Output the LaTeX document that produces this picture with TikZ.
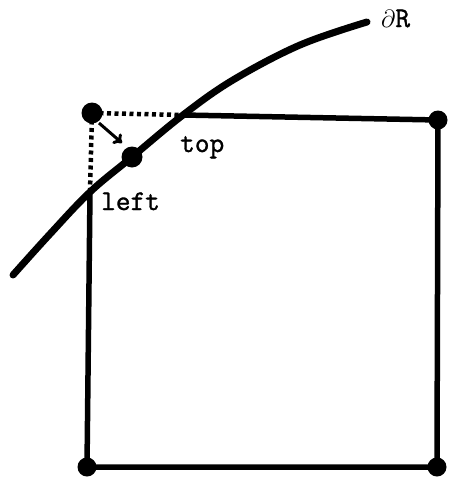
\documentclass[tikz,border=0pt]{standalone}
\usepackage{fontspec}
\newfontfamily\typew[FakeBold=1.2]{Latin Modern Mono}
\usetikzlibrary{arrows.meta}
\begin{document}
\begin{tikzpicture}[x=1pt,y=-1pt,
  dot/.style={circle,fill=black,inner sep=0pt,minimum size=#1},
  dot/.default=19pt,
  edge/.style={line width=5.5pt,line cap=round},
  guide/.style={line width=4.5pt,dash pattern=on 4pt off 3.5pt},
  lbl/.style={inner sep=0pt,font=\typew\fontsize{28.5}{28.5}\selectfont}]
\useasboundingbox (0,0) rectangle (448,480);
% named points
\coordinate (top) at (183,115);
\coordinate (left) at (90,192);
\node[dot=21pt] (P) at (92,113) {};
\node[dot=21pt] (Q) at (132,157) {};
\node[dot] (TR) at (438,120) {};
\node[dot] (BR) at (437,467) {};
\node[dot] (BL) at (87,467) {};
% boundary curve
\draw[line width=7pt,line cap=round] plot[smooth,tension=0.6] coordinates
  {(13,275) (50,234) (left) (Q) (top) (233,80) (300,45) (367,22)};
% square
\draw[edge] (top) -- (TR.center) -- (BR.center) -- (BL.center) -- (left);
% dotted guides
\draw[guide] (P.center) -- (top);
\draw[guide] (P.center) -- (left);
% arrow
\draw[line width=3pt,-{To[length=8pt,width=13pt]}] (99,123) -- (122,143);
% labels
\node[lbl,anchor=base west] (ltop) at (180,152) {top};
\node[lbl,anchor=base west] (lleft) at (101,210) {left};
\node[lbl,anchor=base west] (lR) at (381,27) {$\partial$R};
\end{tikzpicture}
\end{document}
